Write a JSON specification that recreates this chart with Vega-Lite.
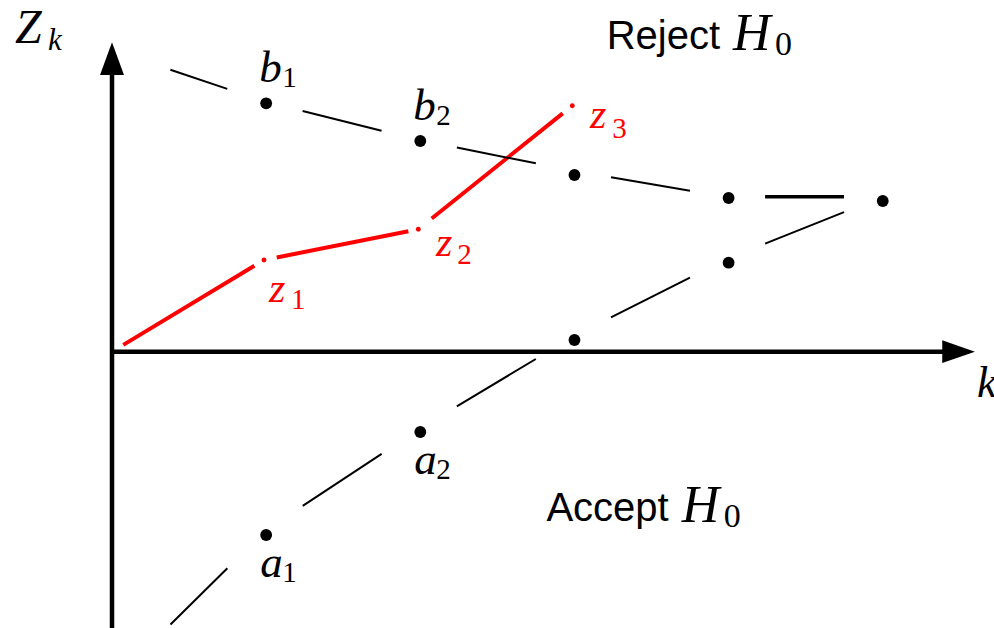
{
  "$schema": "https://vega.github.io/schema/vega-lite/v6.json",
  "width": 994,
  "height": 628,
  "padding": 0,
  "autosize": {"type": "none"},
  "background": "#ffffff",
  "config": {"view": {"stroke": null}},
  "datasets": {
    "axes": [
      {"axis": "Z", "k": 0, "z": -2.8, "k2": 0, "z2": 2.8},
      {"axis": "k", "k": 0, "z": 0, "k2": 5.4, "z2": 0}
    ],
    "arrows": [
      {"axis": "Z", "k": 0, "z": 3.094, "t": "Z", "sub": "k"},
      {"axis": "k", "k": 5.598, "z": 0, "t": "k", "sub": ""}
    ],
    "ticks": [{"k": 1}, {"k": 2}, {"k": 3}, {"k": 4}, {"k": 5}],
    "bounds": [
      {"seg": "b0", "k": 0, "z": 3.016, "k2": 1, "z2": 2.497},
      {"seg": "b1", "k": 1, "z": 2.497, "k2": 2, "z2": 2.114},
      {"seg": "b2", "k": 2, "z": 2.114, "k2": 3, "z2": 1.807},
      {"seg": "b3", "k": 3, "z": 1.807, "k2": 4, "z2": 1.542},
      {"seg": "b4", "k": 4, "z": 1.55, "k2": 5, "z2": 1.551},
      {"seg": "a0", "k": 0, "z": -3.306, "k2": 1, "z2": -1.782},
      {"seg": "a1", "k": 1, "z": -1.782, "k2": 2, "z2": -0.766},
      {"seg": "a2", "k": 2, "z": -0.766, "k2": 3, "z2": 0.159},
      {"seg": "a3", "k": 3, "z": 0.159, "k2": 4, "z2": 0.935},
      {"seg": "a4", "k": 4, "z": 0.935, "k2": 5, "z2": 1.551}
    ],
    "zpath": [
      {"seg": "r0", "k": 0, "z": 0, "k2": 0.986, "z2": 0.917},
      {"seg": "r1", "k": 0.986, "z": 0.917, "k2": 1.987, "z2": 1.224},
      {"seg": "r2", "k": 1.987, "z": 1.224, "k2": 2.986, "z2": 2.46}
    ],
    "dots": [
      {"id": "b1", "name": "b", "sub": "1", "k": 1, "z": 2.484},
      {"id": "b2", "name": "b", "sub": "2", "k": 2, "z": 2.107},
      {"id": "b3", "name": "", "sub": "", "k": 3, "z": 1.767},
      {"id": "b4", "name": "", "sub": "", "k": 4, "z": 1.537},
      {"id": "b5", "name": "", "sub": "", "k": 5, "z": 1.507},
      {"id": "a1", "name": "a", "sub": "1", "k": 1, "z": -1.833},
      {"id": "a2", "name": "a", "sub": "2", "k": 2, "z": -0.803},
      {"id": "a3", "name": "", "sub": "", "k": 3, "z": 0.117},
      {"id": "a4", "name": "", "sub": "", "k": 4, "z": 0.89}
    ],
    "zdots": [
      {"id": "z1", "name": "z", "sub": "1", "k": 0.986, "z": 0.917},
      {"id": "z2", "name": "z", "sub": "2", "k": 1.987, "z": 1.224},
      {"id": "z3", "name": "z", "sub": "3", "k": 2.986, "z": 2.46}
    ],
    "regions": [
      {"word": "Reject", "h": "H", "sub": "0", "k": 4.029, "z": 3.017},
      {"word": "Accept", "h": "H", "sub": "0", "k": 3.696, "z": -1.7}
    ]
  },
  "encoding": {
    "x": {"field": "k", "type": "quantitative", "scale": {"domain": [-0.7266, 5.7217], "nice": false, "zero": false}, "axis": null},
    "y": {"field": "z", "type": "quantitative", "scale": {"domain": [-2.763, 3.517], "nice": false, "zero": false}, "axis": null}
  },
  "layer": [
    {
      "data": {"name": "axes"},
      "mark": {"type": "rule", "strokeWidth": 4.5, "color": "#000000", "strokeCap": "butt"},
      "encoding": {"x2": {"field": "k2"}, "y2": {"field": "z2"}}
    },
    {
      "data": {"name": "arrows"},
      "mark": {"type": "point", "filled": true, "color": "#000000", "opacity": 1, "size": 1069, "strokeWidth": 0},
      "encoding": {
        "shape": {"field": "axis", "type": "nominal", "scale": {"domain": ["Z", "k"], "range": ["M0,0L0.734,2L-0.734,2Z", "M0,0L-2,0.694L-2,-0.694Z"]}, "legend": null}
      }
    },
    {
      "data": {"name": "ticks"},
      "mark": {"type": "rule", "strokeWidth": 4.5, "color": "#000000", "strokeCap": "butt"},
      "encoding": {"y": {"datum": 0}, "y2": {"datum": -0.15}}
    },
    {
      "data": {"name": "zpath"},
      "mark": {"type": "rule", "color": "#ff0000", "strokeWidth": 4, "strokeCap": "butt"},
      "encoding": {
        "x2": {"field": "k2"},
        "y2": {"field": "z2"},
        "strokeDash": {"field": "seg", "type": "nominal", "scale": {
          "domain": ["r0", "r1", "r2", "b0", "b1", "b2", "b3", "b4", "a0", "a1", "a2", "a3", "a4"],
          "range": [[0, 13.2, 153.1, 500], [0, 13, 134.2, 500], [0, 17.2, 168, 500], [0, 61.6, 60, 500], [0, 37.6, 81.3, 500], [0, 37.3, 80.5, 500], [0, 37.1, 80.1, 500], [0, 36.5, 78.9, 500], [0, 82.2, 80, 500], [0, 43.8, 94.5, 500], [0, 42.6, 92.1, 500], [0, 40.9, 88.4, 500], [0, 39.3, 85, 500]]
        }, "legend": null}
      }
    },
    {
      "data": {"name": "bounds"},
      "mark": {"type": "rule", "color": "#000000", "strokeCap": "butt"},
      "encoding": {
        "x2": {"field": "k2"},
        "y2": {"field": "z2"},
        "strokeWidth": {"condition": {"test": "datum.seg === 'b4'", "value": 3.5}, "value": 2},
        "strokeDash": {"field": "seg", "type": "nominal", "scale": {
          "domain": ["r0", "r1", "r2", "b0", "b1", "b2", "b3", "b4", "a0", "a1", "a2", "a3", "a4"],
          "range": [[0, 13.2, 153.1, 500], [0, 13, 134.2, 500], [0, 17.2, 168, 500], [0, 61.6, 60, 500], [0, 37.6, 81.3, 500], [0, 37.3, 80.5, 500], [0, 37.1, 80.1, 500], [0, 36.5, 78.9, 500], [0, 82.2, 80, 500], [0, 43.8, 94.5, 500], [0, 42.6, 92.1, 500], [0, 40.9, 88.4, 500], [0, 39.3, 85, 500]]
        }, "legend": null}
      }
    },
    {
      "data": {"name": "dots"},
      "mark": {"type": "circle", "color": "#000000", "size": 140, "opacity": 1}
    },
    {
      "data": {"name": "zdots"},
      "mark": {"type": "circle", "color": "#ff0000", "size": 24, "opacity": 1}
    },
    {
      "data": {"name": "dots"},
      "transform": [{"filter": "datum.name === 'b'"}],
      "mark": {"type": "text", "font": "Liberation Serif", "fontStyle": "italic", "fontSize": 45, "align": "left", "baseline": "alphabetic", "dx": -7, "dy": -21.5, "color": "#000000"},
      "encoding": {"text": {"field": "name"}}
    },
    {
      "data": {"name": "dots"},
      "transform": [{"filter": "datum.name === 'b'"}],
      "mark": {"type": "text", "font": "Liberation Serif", "fontSize": 29, "align": "left", "baseline": "alphabetic", "dx": 16, "dy": -16, "color": "#000000"},
      "encoding": {"text": {"field": "sub"}}
    },
    {
      "data": {"name": "dots"},
      "transform": [{"filter": "datum.name === 'a'"}],
      "mark": {"type": "text", "font": "Liberation Serif", "fontStyle": "italic", "fontSize": 45, "align": "left", "baseline": "alphabetic", "dx": -6, "dy": 41.5, "color": "#000000"},
      "encoding": {"text": {"field": "name"}}
    },
    {
      "data": {"name": "dots"},
      "transform": [{"filter": "datum.name === 'a'"}],
      "mark": {"type": "text", "font": "Liberation Serif", "fontSize": 29, "align": "left", "baseline": "alphabetic", "dx": 16, "dy": 46.7, "color": "#000000"},
      "encoding": {"text": {"field": "sub"}}
    },
    {
      "data": {"name": "zdots"},
      "transform": [{"filter": "datum.id === 'z1'"}],
      "mark": {"type": "text", "font": "Liberation Serif", "fontStyle": "italic", "fontSize": 42, "align": "left", "baseline": "alphabetic", "dx": 5, "dy": 41.7, "color": "#ff0000"},
      "encoding": {"text": {"field": "name"}}
    },
    {
      "data": {"name": "zdots"},
      "transform": [{"filter": "datum.id === 'z1'"}],
      "mark": {"type": "text", "font": "Liberation Serif", "fontSize": 29, "align": "left", "baseline": "alphabetic", "dx": 27, "dy": 49.3, "color": "#ff0000"},
      "encoding": {"text": {"field": "sub"}}
    },
    {
      "data": {"name": "zdots"},
      "transform": [{"filter": "datum.id === 'z2'"}],
      "mark": {"type": "text", "font": "Liberation Serif", "fontStyle": "italic", "fontSize": 42, "align": "left", "baseline": "alphabetic", "dx": 17.7, "dy": 26.7, "color": "#ff0000"},
      "encoding": {"text": {"field": "name"}}
    },
    {
      "data": {"name": "zdots"},
      "transform": [{"filter": "datum.id === 'z2'"}],
      "mark": {"type": "text", "font": "Liberation Serif", "fontSize": 29, "align": "left", "baseline": "alphabetic", "dx": 39, "dy": 34.7, "color": "#ff0000"},
      "encoding": {"text": {"field": "sub"}}
    },
    {
      "data": {"name": "zdots"},
      "transform": [{"filter": "datum.id === 'z3'"}],
      "mark": {"type": "text", "font": "Liberation Serif", "fontStyle": "italic", "fontSize": 42, "align": "left", "baseline": "alphabetic", "dx": 17.7, "dy": 22.6, "color": "#ff0000"},
      "encoding": {"text": {"field": "name"}}
    },
    {
      "data": {"name": "zdots"},
      "transform": [{"filter": "datum.id === 'z3'"}],
      "mark": {"type": "text", "font": "Liberation Serif", "fontSize": 29, "align": "left", "baseline": "alphabetic", "dx": 40, "dy": 32.6, "color": "#ff0000"},
      "encoding": {"text": {"field": "sub"}}
    },
    {
      "data": {"name": "arrows"},
      "transform": [{"filter": "datum.axis === 'Z'"}],
      "mark": {"type": "text", "font": "Liberation Serif", "fontStyle": "italic", "fontSize": 48, "align": "left", "baseline": "alphabetic", "dx": -97, "dy": 1, "color": "#000000"},
      "encoding": {"text": {"field": "t"}}
    },
    {
      "data": {"name": "arrows"},
      "transform": [{"filter": "datum.axis === 'Z'"}],
      "mark": {"type": "text", "font": "Liberation Serif", "fontStyle": "italic", "fontSize": 31, "align": "left", "baseline": "alphabetic", "dx": -64, "dy": 7.7, "color": "#000000"},
      "encoding": {"text": {"field": "sub"}}
    },
    {
      "data": {"name": "arrows"},
      "transform": [{"filter": "datum.axis === 'k'"}],
      "mark": {"type": "text", "font": "Liberation Serif", "fontStyle": "italic", "fontSize": 44, "align": "left", "baseline": "alphabetic", "dx": 2, "dy": 45, "color": "#000000"},
      "encoding": {"text": {"field": "t"}}
    },
    {
      "data": {"name": "regions"},
      "mark": {"type": "text", "font": "Liberation Sans", "fontSize": 40, "align": "right", "baseline": "alphabetic", "dx": -13, "dy": -1, "color": "#000000"},
      "encoding": {"text": {"field": "word"}}
    },
    {
      "data": {"name": "regions"},
      "mark": {"type": "text", "font": "Liberation Serif", "fontStyle": "italic", "fontSize": 52, "align": "left", "baseline": "alphabetic", "dx": 0, "dy": 0, "color": "#000000"},
      "encoding": {"text": {"field": "h"}}
    },
    {
      "data": {"name": "regions"},
      "mark": {"type": "text", "font": "Liberation Serif", "fontSize": 34, "align": "left", "baseline": "alphabetic", "dx": 42, "dy": 5, "color": "#000000"},
      "encoding": {"text": {"field": "sub"}}
    }
  ]
}
